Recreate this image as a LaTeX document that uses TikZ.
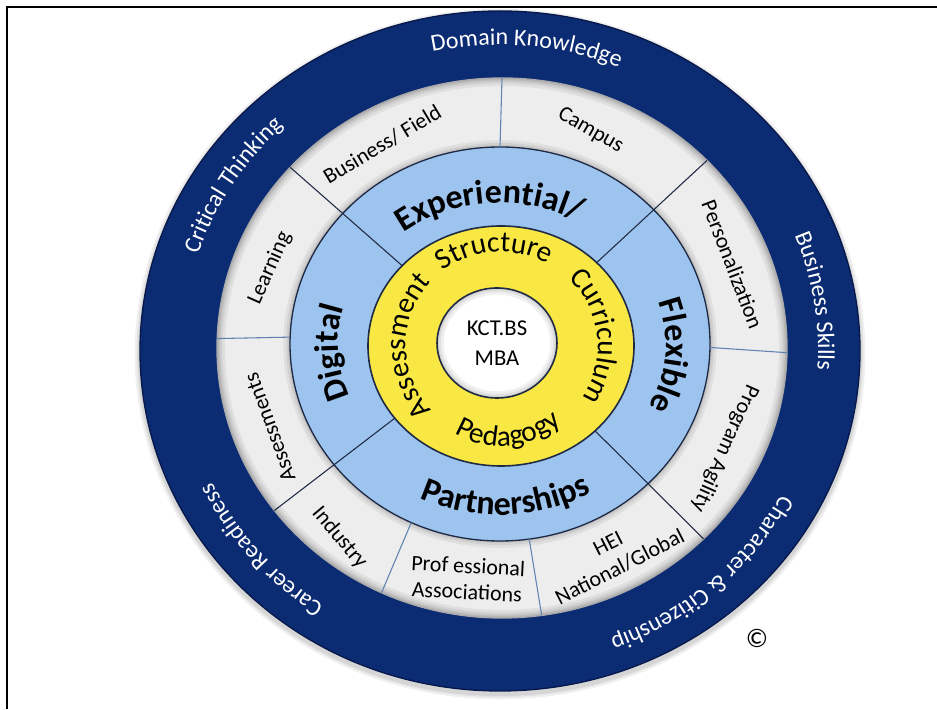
\documentclass[tikz,border=0pt]{standalone}
\usepackage{fontspec}
\setmainfont{Carlito}
\usetikzlibrary{decorations.text,calc}

\definecolor{navyband}{HTML}{0B2B73}
\definecolor{navyrim}{HTML}{07194A}
\definecolor{paleband}{HTML}{EDEDED}
\definecolor{palerim}{HTML}{A9A9A9}
\definecolor{skyband}{HTML}{9DC3EF}
\definecolor{sunband}{HTML}{F9E844}
\definecolor{inkrim}{HTML}{1F2A44}
\definecolor{seamblue}{HTML}{5F82B2}

\newcommand{\outerfont}{\fontsize{18}{19}\selectfont\color{white}}
\newcommand{\pillarfont}{\bfseries\fontsize{25.5}{28}\selectfont}
\newcommand{\corefont}{\fontsize{22}{24}\selectfont}

\begin{document}
\begin{tikzpicture}[x=0.75pt,y=0.75pt,
  seglabel/.style={font=\fontsize{16.5}{19.5}\selectfont, inner sep=0pt, align=center},
  longseam/.style={draw=inkrim, line width=0.8pt},
  shortseam/.style={draw=seamblue, line width=0.8pt},
  arctext/.style={decorate, decoration={text along path, text align=center, text={#1}}},
  softshade/.style={black, opacity=0.06},
]
\path[use as bounding box] (0,0) rectangle (937,709);

% frame
\draw[line width=1.5pt] (6.7,0) -- (6.7,701.7) -- (937,701.7);

% ring centres (slight perspective offsets)
\coordinate (cD) at (500,358);
\coordinate (cG) at (502,361);
\coordinate (cB) at (500,365);
\coordinate (cY) at (501,363);
\coordinate (cW) at (497,366);

% soft drop shadow under the disc
\foreach \w in {8,5,3} {
  \draw[softshade, line width=\w pt] ($(cD)+(0,-3)$) ellipse [x radius=360, y radius=340];
}
% outer navy band
\filldraw[fill=navyband, draw=navyrim, line width=1pt] (cD) ellipse [x radius=360, y radius=340];

% grey segment band with a recessed rim
\fill[paleband] (cG) ellipse [x radius=285, y radius=270];
\begin{scope}
  \clip (cG) ellipse [x radius=285, y radius=270];
  \foreach \w in {12,8,5,3} {
    \draw[softshade, line width=\w pt] (cG) ellipse [x radius=285, y radius=270];
  }
  % shadow cast by the blue band
  \foreach \w in {10,6,3} {
    \draw[softshade, line width=\w pt] (cB) ellipse [x radius=210, y radius=197];
  }
\end{scope}
\draw[palerim, line width=1pt] (cG) ellipse [x radius=285, y radius=270];

% light blue pillar band
\filldraw[fill=skyband, draw=inkrim, line width=1pt] (cB) ellipse [x radius=210, y radius=197];

% short seams in the grey band
\foreach \t/\nm in {90/a, -1/b, -82/c, -115/d, 178/e} {
  \coordinate (si\nm) at ($(cB)+(\t:210 and 197)$);
  \coordinate (so\nm) at ($(cG)+(\t:285 and 270)$);
  \draw[shortseam] (si\nm) -- (so\nm);
}
% long seams across the blue and grey bands
\foreach \t/\nm in {44/a, -45/b, -143/c, 138/d} {
  \coordinate (li\nm) at ($(cY)+(\t:133 and 120)$);
  \coordinate (lo\nm) at ($(cG)+(\t:285 and 270)$);
  \draw[longseam] (li\nm) -- (lo\nm);
}

% yellow core band
\filldraw[fill=sunband, draw=inkrim, line width=1.2pt] (cY) ellipse [x radius=133, y radius=120];
% white hub with a soft inner rim
\fill[white] (cW) ellipse [x radius=60, y radius=55];
\begin{scope}
  \clip (cW) ellipse [x radius=60, y radius=55];
  \foreach \w in {10,6,3} {
    \draw[softshade, line width=\w pt] (cW) ellipse [x radius=60, y radius=55];
  }
\end{scope}
\draw[inkrim, line width=1.2pt] (cW) ellipse [x radius=60, y radius=55];
\node[font=\fontsize{17}{22.5}\selectfont, align=center, inner sep=0pt] (hub) at (cW) {KCT.BS\\MBA};

% outer band captions (clockwise, tops outward)
\path[arctext={|\outerfont|Domain Knowledge}] ($(cD)+(155:318 and 306)$) arc[start angle=155, end angle=15, x radius=318, y radius=306];
\path[arctext={|\outerfont|Business Skills}] ($(cD)+(79:318 and 306)$) arc[start angle=79, end angle=-61, x radius=318, y radius=306];
\path[arctext={|\outerfont|Character {\&} Citizenship}] ($(cD)+(22:318 and 306)$) arc[start angle=22, end angle=-118, x radius=318, y radius=306];
\path[arctext={|\outerfont|Career Readiness}] ($(cD)+(-70:318 and 306)$) arc[start angle=-70, end angle=-210, x radius=318, y radius=306];
\path[arctext={|\outerfont|Critical Thinking}] ($(cD)+(218:318 and 306)$) arc[start angle=218, end angle=78, x radius=318, y radius=306];

% grey segment labels
\node[seglabel, rotate=31] (bizfield) at ($(cG)+(119:247 and 233)$) {Business/ Field};
\node[seglabel, rotate=-30] (campus) at ($(cG)+(69:247 and 233)$) {Campus};
\node[seglabel, rotate=-69] (personal) at ($(cG)+(21:247 and 233)$) {Personalization};
\node[seglabel, rotate=-114] (agility) at ($(cG)+(-25.5:247 and 233)$) {Program Agility};
\node[seglabel, rotate=27] (hei) at ($(cG)+(-63:247 and 233)$) {HEI\\National/Global};
\node[seglabel, rotate=-3] (profassoc) at ($(cG)+(-98:247 and 233)$) {Prof essional\\Associations};
\node[seglabel, rotate=-50] (industry) at ($(cG)+(-129:258 and 244)$) {Industry};
\node[seglabel, rotate=110] (assess) at ($(cG)+(200:247 and 233)$) {Assessments};
\node[seglabel, rotate=66] (learning) at ($(cG)+(160:247 and 233)$) {Learning};

% pillar captions
\path[arctext={|\pillarfont|Experiential/}] ($(cB)+(164.5:158 and 141)$) arc[start angle=164.5, end angle=24.5, x radius=158, y radius=141];
\path[arctext={|\pillarfont|Flexible}] ($(cB)+(66:166 and 141)$) arc[start angle=66, end angle=-74, x radius=166, y radius=141];
\path[arctext={|\pillarfont|Digital}] ($(cB)+(253:162 and 141)$) arc[start angle=253, end angle=113, x radius=162, y radius=141];
\path[arctext={|\pillarfont|Partnerships}] ($(cB)+(-158:186 and 171)$) arc[start angle=-158, end angle=-18, x radius=186, y radius=171];

% core captions
\path[arctext={|\corefont|Structure}] ($(cY)+(164:96 and 94)$) arc[start angle=164, end angle=24, x radius=96, y radius=94];
\path[arctext={|\corefont|Curriculum}] ($(cY)+(76:97 and 94)$) arc[start angle=76, end angle=-64, x radius=97, y radius=94];
\path[arctext={|\corefont|Assessment}] ($(cY)+(250:95 and 94)$) arc[start angle=250, end angle=110, x radius=95, y radius=94];
\path[arctext={|\corefont|Pedagogy}] ($(cY)+(-155:96 and 100)$) arc[start angle=-155, end angle=-15, x radius=96, y radius=100];

% copyright mark
\node[font=\fontsize{20}{22}\selectfont, inner sep=0pt] (copy) at (757,71) {©};
\end{tikzpicture}
\end{document}
